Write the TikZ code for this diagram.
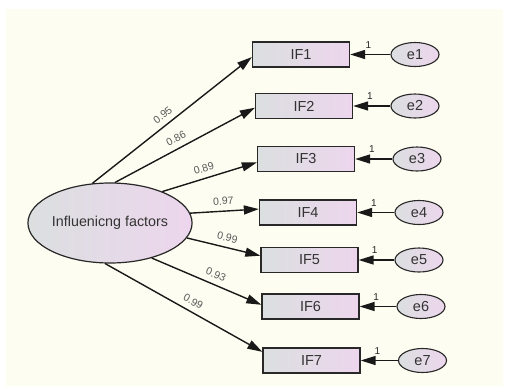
\documentclass[tikz,border=0pt]{standalone}
\usepackage{fontspec}
\setmainfont{Liberation Sans}
\usetikzlibrary{arrows.meta,shapes.geometric}
\definecolor{cream}{RGB}{253,253,241}
\definecolor{fillL}{RGB}{219,223,224}
\definecolor{fillR}{RGB}{237,214,237}
\definecolor{rand}{RGB}{40,40,40}
\tikzset{
	ind/.style={draw=rand, line width=1.3pt, left color=fillL, right color=fillR,
		minimum width=97pt, minimum height=25pt, inner sep=0pt,
		font=\fontsize{14.5}{16}\selectfont, text=black!80},
	err/.style={ellipse, draw=rand, line width=1.1pt, left color=fillL, right color=fillR,
		minimum width=48pt, minimum height=24pt, inner sep=0pt,
		font=\fontsize{14.5}{16}\selectfont, text=black!80},
	pfeil/.style={line width=1.4pt, draw=black!90, -{Triangle[length=15pt,width=9pt]}},
	gew/.style={sloped, above=5pt, inner sep=0.5pt, font=\fontsize{10.5}{12}\selectfont, text=black!65},
	eins/.style={above=2pt, font=\fontsize{10}{11}\selectfont, text=black!85}
}
\begin{document}
\begin{tikzpicture}[x=1pt, y=-1pt]
% Hintergrund:
	\useasboundingbox (0,0) rectangle (506,389);
	\fill [white] (0,0) rectangle (506,389);
	\fill [cream] (6,9) rectangle (503,386);
% Faktor:
	\node [ellipse, draw=rand, line width=1.2pt, left color=fillL, right color=fillR,
		minimum width=156pt, minimum height=80pt, inner sep=0pt,
		font=\fontsize{14.3}{16}\selectfont, text=black!80] (F) at (110,223) {Influenicng factors};
% Indikatoren:
	\node [ind] (IF1) at (301,54.5) {IF1};
	\node [ind] (IF2) at (304,106) {IF2};
	\node [ind] (IF3) at (306,159) {IF3};
	\node [ind] (IF4) at (308,212.5) {IF4};
	\node [ind] (IF5) at (309.5,260) {IF5};
	\node [ind] (IF6) at (310.5,306.5) {IF6};
	\node [ind] (IF7) at (311.5,360.5) {IF7};
% Fehler:
	\node [err] (e1) at (415,54.5) {e1};
	\node [err] (e2) at (415,106) {e2};
	\node [err] (e3) at (417,159) {e3};
	\node [err] (e4) at (419,212.5) {e4};
	\node [err] (e5) at (419,260) {e5};
	\node [err] (e6) at (421,306.5) {e6};
	\node [err] (e7) at (422.5,360.5) {e7};
% Ladungen
	\draw [pfeil] (F.114) -- (IF1.183) node [gew, pos=0.48] {0.95};
	\draw [pfeil] (F.83) -- (IF2.182) node [gew, pos=0.47] {0.86};
	\draw [pfeil] (F.31) -- (IF3.184) node [gew, pos=0.47] {0.89};
	\draw [pfeil] (F.7) -- (IF4.176) node [gew, pos=0.49] {0.97};
	\draw [pfeil] (F.349) -- (IF5.175) node [gew, pos=0.52] {0.99};
	\draw [pfeil] (F.320) -- (IF6.178) node [gew, pos=0.55] {0.93};
	\draw [pfeil] (F.263) -- (IF7.170) node [gew, pos=0.53] {0.99};
% Fehlerpfade
	\draw [pfeil] (e1) -- (IF1) node [eins, pos=0.55] {1};
	\draw [pfeil] (e2) -- (IF2) node [eins, pos=0.55] {1};
	\draw [pfeil] (e3) -- (IF3) node [eins, pos=0.55] {1};
	\draw [pfeil] (e4) -- (IF4) node [eins, pos=0.55] {1};
	\draw [pfeil] (e5) -- (IF5) node [eins, pos=0.55] {1};
	\draw [pfeil] (e6) -- (IF6) node [eins, pos=0.55] {1};
	\draw [pfeil] (e7) -- (IF7) node [eins, pos=0.55] {1};
\end{tikzpicture}
\end{document}
